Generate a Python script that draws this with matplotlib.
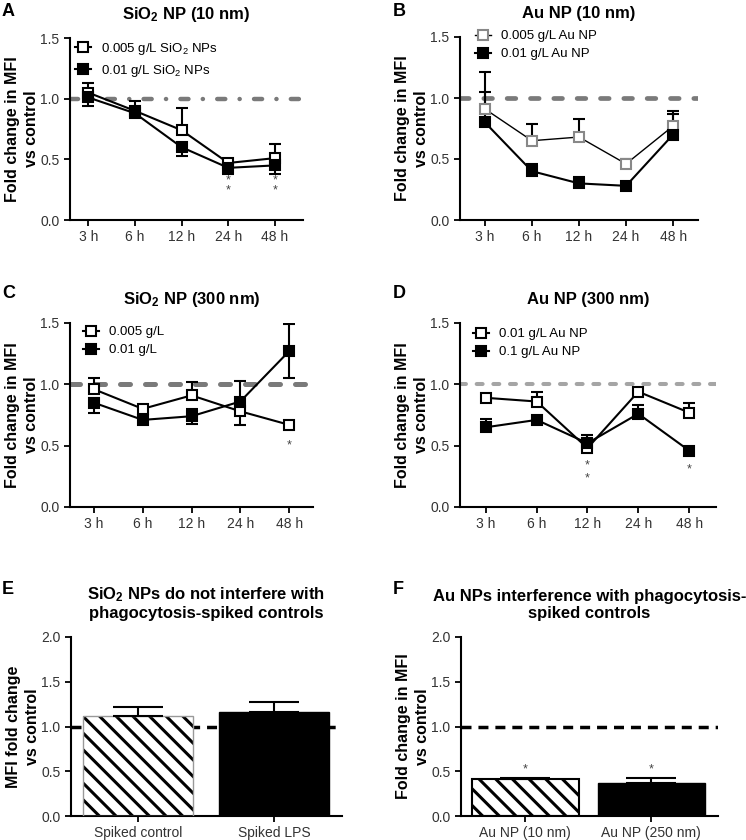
import matplotlib.pyplot as plt

plt.rcParams['font.family'] = ['Liberation Sans', 'DejaVu Sans']
plt.rcParams['mathtext.default'] = 'regular'
plt.rcParams['lines.scale_dashes'] = False
plt.rcParams['hatch.linewidth'] = 2.2
plt.rcParams['axes.linewidth'] = 1.5

times = ['3 h', '6 h', '12 h', '24 h', '48 h']

# A: SiO2 10 nm
a_low = [1.05, 0.90, 0.74, 0.47, 0.51]
a_low_up = [0.08, 0.08, 0.18, 0.02, 0.12]
a_high = [1.01, 0.88, 0.60, 0.43, 0.45]
a_high_down = [0.07, 0.03, 0.07, 0.05, 0.07]

# B: Au 10 nm
b_low = [0.91, 0.65, 0.68, 0.46, 0.77]
b_low_up = [0.30, 0.14, 0.15, 0.04, 0.12]
b_high = [0.80, 0.40, 0.30, 0.28, 0.70]
b_high_up = [0.25, 0.06, 0.05, 0.02, 0.17]

# C: SiO2 300 nm
c_low = [0.96, 0.80, 0.91, 0.78, 0.67]
c_low_up = [0.09, 0.02, 0.11, 0.0, 0.0]
c_low_down = [0.0, 0.0, 0.0, 0.11, 0.0]
c_high = [0.85, 0.71, 0.74, 0.86, 1.27]
c_high_up = [0.04, 0.0, 0.06, 0.17, 0.22]
c_high_down = [0.08, 0.02, 0.06, 0.0, 0.22]

# D: Au 300 nm
d_low = [0.89, 0.86, 0.48, 0.94, 0.77]
d_low_up = [0.0, 0.08, 0.0, 0.02, 0.08]
d_high = [0.65, 0.71, 0.52, 0.76, 0.46]
d_high_up = [0.07, 0.0, 0.07, 0.07, 0.03]

# E / F: spiked controls
e_labels = ['Spiked control', 'Spiked LPS']
e_vals = [1.12, 1.16]
e_err = [0.10, 0.11]
f_labels = ['Au NP (10 nm)', 'Au NP (250 nm)']
f_vals = [0.41, 0.37]
f_err = [0.015, 0.055]

fig = plt.figure(figsize=(7.46, 8.4), dpi=100)

def style(ax, ymax, step):
    for s in ['top', 'right']:
        ax.spines[s].set_visible(False)
    ax.tick_params(length=4, width=1.3, labelsize=10, labelcolor='#333333')
    ax.set_ylim(0, ymax)
    ticks = [i * step for i in range(int(round(ymax / step)) + 1)]
    ax.set_yticks(ticks)
    ax.set_yticklabels(['%.1f' % t for t in ticks])

def ylabel(ax, text):
    ax.set_ylabel(text, fontsize=11.5, fontweight='bold', linespacing=1.3, labelpad=1)

def line_panel(ax, xlim, low, low_err, high, high_err, labels, ref, open_color='black', open_lw=1.5):
    x = list(range(len(times)))
    ax.axhline(1.0, zorder=1, **ref)
    ax.errorbar(x, low, yerr=low_err, fmt='none', ecolor='black', elinewidth=1.5,
                capsize=4, capthick=1.5, zorder=3)
    ax.errorbar(x, high, yerr=high_err, fmt='none', ecolor='black', elinewidth=1.5,
                capsize=4, capthick=1.5, zorder=3)
    ax.plot(x, low, color='black', lw=open_lw, marker='s', ms=7.5, mfc='white',
            mec=open_color, mew=1.5, zorder=4, label=labels[0])
    ax.plot(x, high, color='black', lw=1.5, marker='s', ms=7.5, mfc='black',
            mec='black', mew=1.5, zorder=5, label=labels[1])
    ax.set_xlim(*xlim)
    ax.set_xticks(x)
    ax.set_xticklabels(times)
    style(ax, 1.5, 0.5)
    ylabel(ax, 'Fold change in MFI\nvs control')

def add_legend(ax, anchor):
    ax.legend(loc='upper left', bbox_to_anchor=anchor, frameon=False, fontsize=9.5,
              handlelength=1.2, handletextpad=0.75, labelspacing=0.45,
              borderaxespad=0, borderpad=0)

def stars(ax, pts):
    for xp, yp in pts:
        ax.text(xp, yp, '*', ha='center', va='center', fontsize=9, color='#444444')

H = 840.0
W = 746.0
def box(l, r, t, b):
    return [l / W, (H - b) / H, (r - l) / W, (b - t) / H]

# A
axA = fig.add_axes(box(70, 303, 38, 220))
line_panel(axA, (-0.39, 4.6),
           a_low, [[0] * 5, a_low_up], a_high, [a_high_down, [0] * 5],
           [r'0.005 g/L SiO$_2$ NPs', r'0.01 g/L SiO$_2$ NPs'],
           dict(color='#7a7a7a', lw=3.2, dashes=(5.8, 10.3, 0.1, 10.3), dash_capstyle='round'))
add_legend(axA, (0.021, 0.984))
stars(axA, [(3, 0.33), (3, 0.24), (4, 0.33), (4, 0.24)])
axA.set_title(r'SiO$_2$ NP (10 nm)', fontsize=12, fontweight='bold', pad=14)

# B
axB = fig.add_axes(box(460, 698, 37, 220))
line_panel(axB, (-0.53, 4.53),
           b_low, [[0] * 5, b_low_up], b_high, [[0] * 5, b_high_up],
           ['0.005 g/L Au NP', '0.01 g/L Au NP'],
           dict(color='#7a7a7a', lw=3.4, dashes=(6.2, 10.6), dash_capstyle='round'),
           open_color='#888888', open_lw=1.0)
add_legend(axB, (0.063, 1.038))
axB.set_title('Au NP (10 nm)', fontsize=12, fontweight='bold', pad=14)

# C
axC = fig.add_axes(box(70, 313, 323, 507))
line_panel(axC, (-0.49, 4.49),
           c_low, [c_low_down, c_low_up], c_high, [c_high_down, c_high_up],
           ['0.005 g/L', '0.01 g/L'],
           dict(color='#7a7a7a', lw=3.6, dashes=(7.2, 10.8), dash_capstyle='round'))
add_legend(axC, (0.053, 0.984))
stars(axC, [(4, 0.50)])
axC.set_title(r'SiO$_2$ NP (300 nm)', fontsize=12, fontweight='bold', pad=14)

# D
axD = fig.add_axes(box(460, 716, 323, 507))
line_panel(axD, (-0.51, 4.53),
           d_low, [[0] * 5, d_low_up], d_high, [[0] * 5, d_high_up],
           ['0.01 g/L Au NP', '0.1 g/L Au NP'],
           dict(color='#a5a5a5', lw=2.9, dashes=(4.3, 7.7), dash_capstyle='round'))
add_legend(axD, (0.051, 0.973))
stars(axD, [(2, 0.34), (2, 0.23), (4, 0.31)])
axD.set_title('Au NP (300 nm)', fontsize=12, fontweight='bold', pad=14)

def bar_panel(ax, labels, vals, err, width, xlim, hatch_edge, hatch_lw):
    x = list(range(len(vals)))
    ax.axhline(1.0, color='black', lw=2.5, dashes=(7.2, 5.0), zorder=1)
    ax.bar(x[0], vals[0], width, color='white', edgecolor='black', hatch='\\\\',
           linewidth=0, zorder=2)
    ax.bar(x[0], vals[0], width, fill=False, edgecolor=hatch_edge, linewidth=hatch_lw, zorder=3)
    ax.bar(x[1], vals[1], width, color='black', edgecolor='black', linewidth=1, zorder=2)
    ax.errorbar(x, vals, yerr=[[0] * len(err), err], fmt='none', ecolor='black',
                elinewidth=1.5, capsize=18, capthick=1.5, zorder=4)
    ax.set_xlim(*xlim)
    ax.set_xticks(x)
    ax.set_xticklabels(labels)
    style(ax, 2.0, 0.5)

# E
axE = fig.add_axes(box(71, 342, 637, 816))
bar_panel(axE, e_labels, e_vals, e_err, 0.81, (-0.49, 1.5), '#999999', 1.0)
ylabel(axE, 'MFI fold change\nvs control')
axE.set_title('SiO$_2$ NPs do not interfere with\nphagocytosis-spiked controls',
              fontsize=12, fontweight='bold', pad=14, linespacing=1.15)

# F
axF = fig.add_axes(box(461, 718, 637, 816))
bar_panel(axF, f_labels, f_vals, f_err, 0.85, (-0.51, 1.53), 'black', 1.5)
ylabel(axF, 'Fold change in MFI\nvs control')
axF.set_title('Au NPs interference with phagocytosis-\nspiked controls',
              fontsize=12, fontweight='bold', pad=14, linespacing=1.15)
stars(axF, [(0, 0.52), (1, 0.52)])

# panel letters
for letter, px, py in [('A', 2, 12), ('B', 393, 12), ('C', 2, 293),
                       ('D', 393, 293), ('E', 2, 589), ('F', 393, 589)]:
    fig.text(px / W, 1 - py / H, letter, fontsize=13, fontweight='bold',
             ha='left', va='center')

fig.savefig('out.png', dpi=100)
